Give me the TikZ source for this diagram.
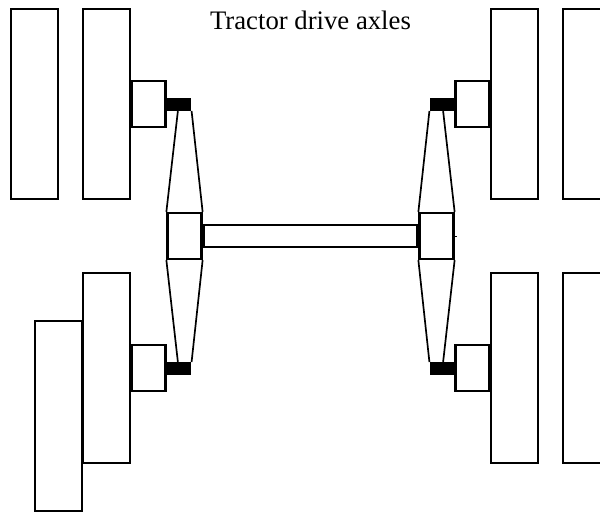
\documentclass[tikz,border=0pt]{standalone}
\usepackage{fontspec}
\setmainfont{Liberation Serif}
\tikzset{
    tyre/.style={draw,line width=1.6pt,inner sep=0,minimum width=1.16cm,minimum height=4.74cm},
    hub/.style={draw,line width=1.6pt,inner sep=0,minimum width=0.85cm,minimum height=1.15cm},
    pin/.style={fill=black,inner sep=0,minimum width=0.64cm,minimum height=0.31cm},
    link/.style={line width=1.2pt}
}
\begin{document}
\begin{tikzpicture}[x=0.025cm,y=-0.025cm]
    \path[use as bounding box,clip] (0,0) rectangle (600,513);
    % left side
    \node[tyre] (tyreA) at (34.5,104) {};
    \node[tyre] (tyreB) at (106.5,104) {};
    \node[hub] (hubA) at (148.5,104) {};
    \node[pin] (pinA) at (178.5,104.5) {};
    \node[tyre] (tyreC) at (58.5,416) {};
    \node[tyre] (tyreD) at (106.5,368) {};
    \node[hub] (hubB) at (148.5,368) {};
    \node[pin] (pinB) at (178.5,368.5) {};
    \node[hub] (boxL) at (184.5,236) {};
    % right side
    \node[tyre] (tyreE) at (514.5,104) {};
    \node[tyre] (tyreF) at (586.5,104) {};
    \node[hub] (hubC) at (472.5,104) {};
    \node[pin] (pinC) at (442.5,104.5) {};
    \node[tyre] (tyreG) at (514.5,368) {};
    \node[tyre] (tyreH) at (586.5,368) {};
    \node[hub] (hubD) at (472.5,368) {};
    \node[pin] (pinD) at (442.5,368.5) {};
    \node[hub] (boxR) at (436.5,236) {};
    % axle
    \node[draw,line width=1.6pt,inner sep=0,minimum width=5.35cm,minimum height=0.56cm] (axle) at (310.5,236) {};
    % links
    \coordinate (a) at (178,110);
    \coordinate (b) at (178,363);
    \coordinate (c) at (443,110);
    \coordinate (d) at (443,363);
    \draw[link] (a) to (boxL.north west);
    \draw[link] (pinA.south east) to (boxL.north east);
    \draw[link] (b) to (boxL.south west);
    \draw[link] (pinB.north east) to (boxL.south east);
    \draw[link] (c) to (boxR.north east);
    \draw[link] (pinC.south west) to (boxR.north west);
    \draw[link] (d) to (boxR.south east);
    \draw[link] (pinD.north west) to (boxR.south west);
    \coordinate (tick) at (457,236);
    \draw[line width=0.6pt] (boxR.east) to (tick);
    \node (title) at (310.5,20) {\fontsize{19}{22}\selectfont Tractor drive axles};
\end{tikzpicture}
\end{document}
